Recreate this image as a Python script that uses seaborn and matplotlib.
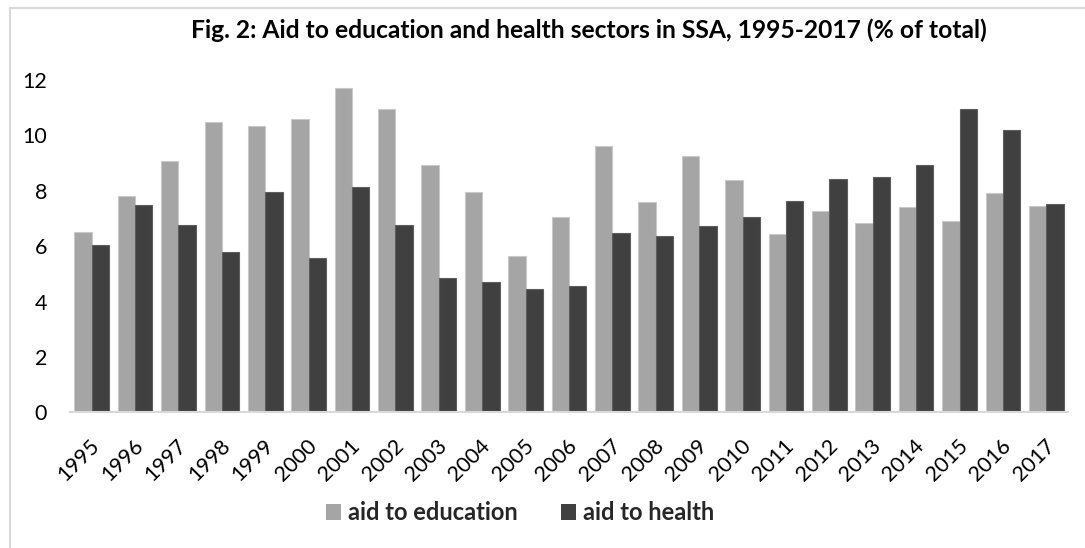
import matplotlib
matplotlib.use("Agg")
import matplotlib.pyplot as plt
import matplotlib.transforms as mtransforms
from matplotlib.patches import Patch
from matplotlib.lines import Line2D
import numpy as np
import pandas as pd
import seaborn as sns

# Aid to education and health in Sub-Saharan Africa, share of total aid (%)
years = [str(y) for y in range(1995, 2018)]
aid_education = [6.50, 7.81, 9.07, 10.47, 10.35, 10.58, 11.71, 10.97, 8.92, 7.95,
                 5.64, 7.05, 9.63, 7.58, 9.25, 8.38, 6.45, 7.27, 6.85, 7.41,
                 6.92, 7.92, 7.44]
aid_health = [6.05, 7.50, 6.76, 5.79, 7.95, 5.56, 8.15, 6.76, 4.86, 4.71,
              4.44, 4.55, 6.47, 6.35, 6.71, 7.05, 7.63, 8.44, 8.48, 8.93,
              10.95, 10.18, 7.52]
series_names = ["aid to education", "aid to health"]
colors = ["#A5A5A5", "#404040"]
edge_colors = ["#C9C9C9", "#5E5E5E"]

df = pd.DataFrame({
    "year": years * 2,
    "value": aid_education + aid_health,
    "series": [series_names[0]] * len(years) + [series_names[1]] * len(years),
})

sns.set_theme(style="white")
plt.rcParams["font.family"] = ["Lato", "DejaVu Sans"]

fig = plt.figure(figsize=(10.85, 5.48), dpi=100)
ax = fig.add_axes([70 / 1085, 1 - 412.3 / 548, 998 / 1085, 332.3 / 548])

sns.barplot(data=df, x="year", y="value", hue="series", palette=colors,
            width=0.8, gap=0, ax=ax, legend=False, saturation=1)

# thin lighter outline on each bar
n = len(years)
for i, p in enumerate(ax.patches[: 2 * n]):
    p.set_edgecolor(edge_colors[i // n])
    p.set_linewidth(0.8)

ax.set_ylim(0, 12)
ax.set_xlim(-0.5, n - 0.5)
ax.set_yticks(np.arange(0, 13, 2))
ax.set_xlabel("")
ax.set_ylabel("")

for side in ["top", "right", "left"]:
    ax.spines[side].set_visible(False)
ax.spines["bottom"].set_color("#D9D9D9")
ax.spines["bottom"].set_linewidth(1.5)

ax.tick_params(axis="y", length=0, pad=16.5, labelsize=15.5, labelcolor="#000000")
ax.tick_params(axis="x", length=0, pad=17, labelsize=15.5, labelcolor="#000000")

offset = mtransforms.ScaledTranslation(-2 / 100, 0, fig.dpi_scale_trans)
for lbl in ax.get_xticklabels():
    lbl.set_rotation(45)
    lbl.set_ha("right")
    lbl.set_va("top")
    lbl.set_rotation_mode("anchor")
    lbl.set_transform(lbl.get_transform() + offset)

fig.text(589 / 1085, 1 - 30 / 548,
         "Fig. 2: Aid to education and health sectors in SSA, 1995-2017 (% of total)",
         ha="center", va="center", fontsize=17.7, fontweight="bold", color="#000000")

handles = [Patch(facecolor=c, edgecolor="none") for c in colors]
fig.legend(handles, series_names, loc="center", bbox_to_anchor=(520 / 1085, 1 - 513 / 548),
           ncol=2, frameon=False, prop={"weight": "bold", "size": 17},
           handlelength=0.65, handleheight=0.65, handletextpad=0.3, columnspacing=1.8)

# light chart-area frame along the top and left edges
fig.add_artist(Line2D([10 / 1085, 1], [1 - 7.5 / 548, 1 - 7.5 / 548],
                      transform=fig.transFigure, color="#D9D9D9", lw=1.5))
fig.add_artist(Line2D([10 / 1085, 10 / 1085], [0, 1 - 7.5 / 548],
                      transform=fig.transFigure, color="#D9D9D9", lw=1.5))

fig.savefig("out.png", dpi=100)
